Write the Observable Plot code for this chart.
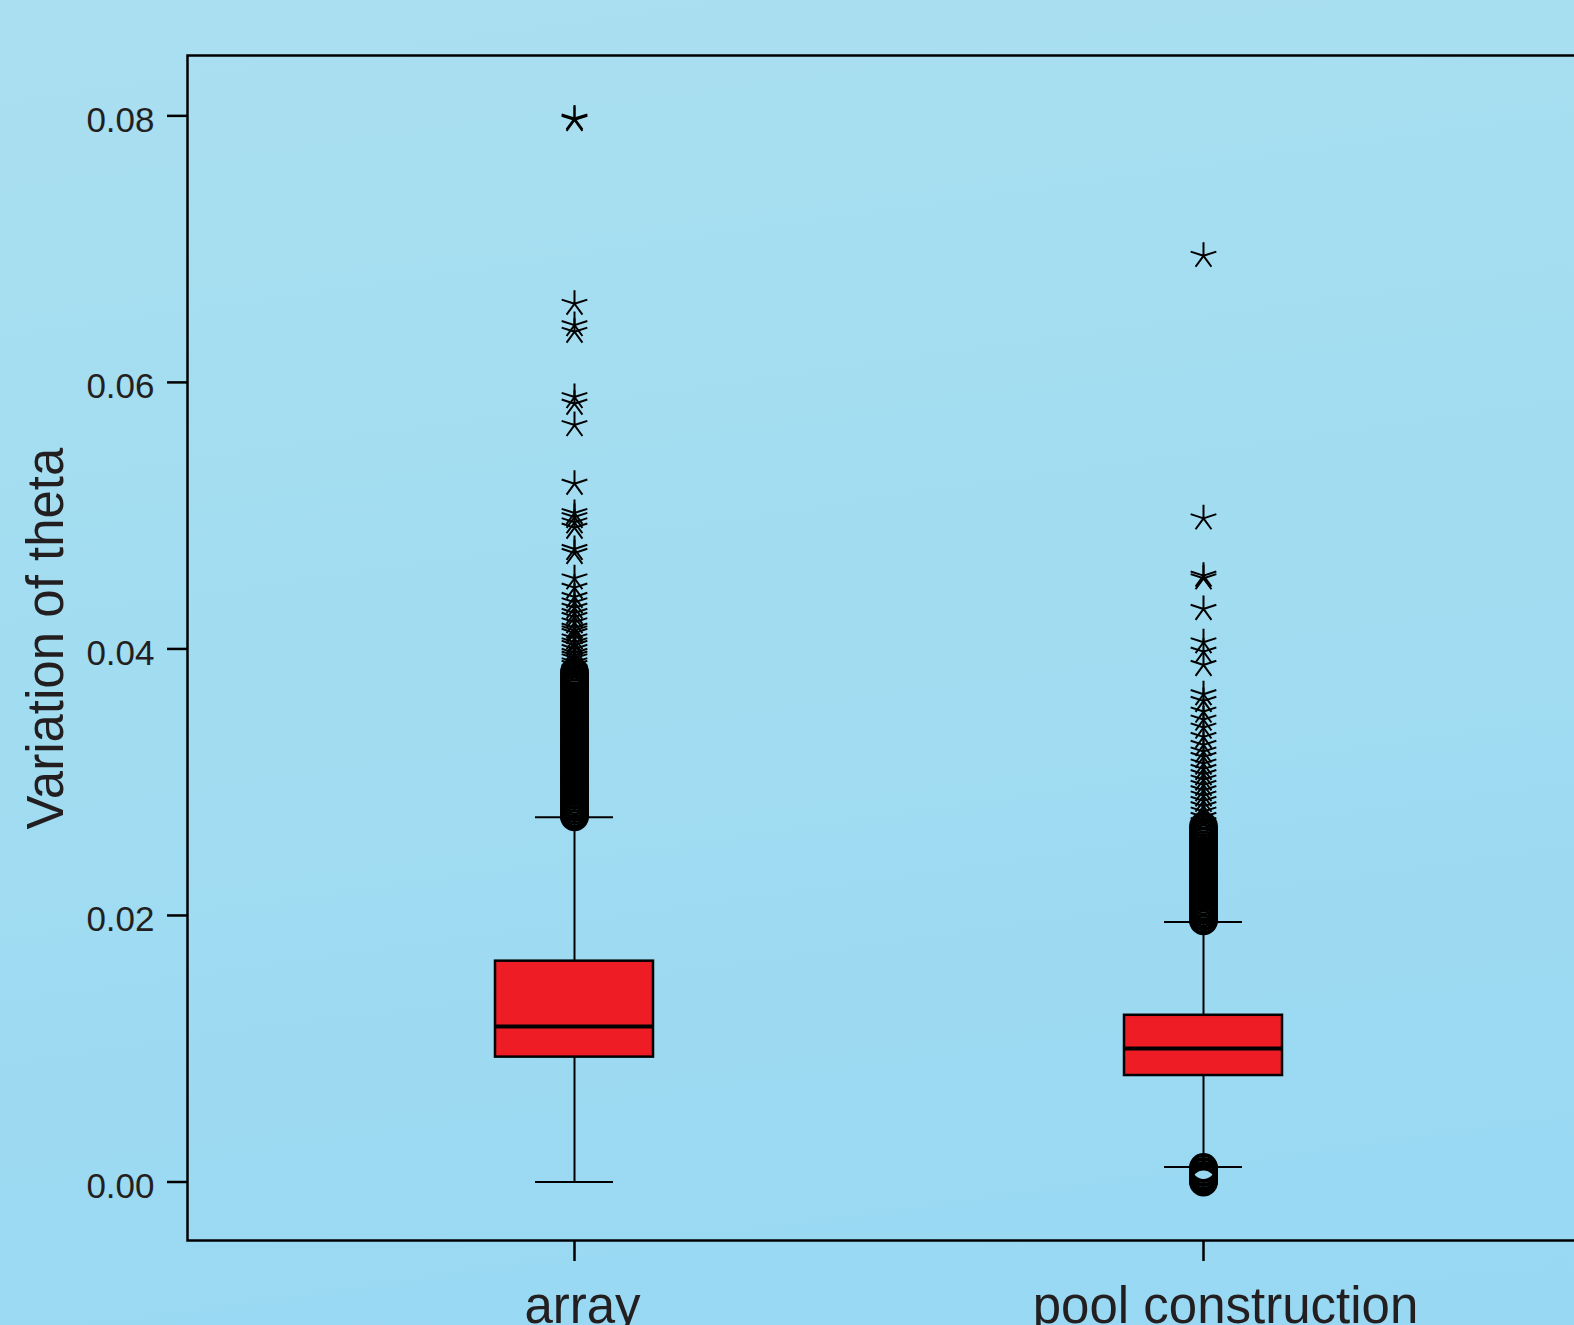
<!DOCTYPE html>
<html><head><meta charset="utf-8">
<script src="https://cdn.jsdelivr.net/npm/d3@7"></script>
<script src="https://cdn.jsdelivr.net/npm/@observablehq/plot@0.6"></script>
<style>
html, body { margin:0; padding:0; width:1574px; height:1325px; overflow:hidden;
  background: linear-gradient(172deg, #aadff0 0%, #a1dcf1 50%, #98d8f3 100%);
  font-family: "Liberation Sans", Arial, sans-serif; }
</style></head><body><div id="chart"></div>
<script>
// ---- data ----
const categories = ["array", "pool construction"];
const lowerWhisker = [0.0000, 0.00113];
const q1 = [0.00937, 0.00799];
const median = [0.01167, 0.01002];
const q3 = [0.01657, 0.01251];
const upperWhisker = [0.02737, 0.01951];

const arrayOutliers = [0.0383, 0.0381, 0.0379, 0.0378, 0.0376, 0.0374, 0.0372, 0.0371, 0.0369, 0.0367,
  0.0365, 0.0363, 0.0362, 0.0360, 0.0358, 0.0356, 0.0354, 0.0353, 0.0351, 0.0349, 0.0347, 0.0345,
  0.0344, 0.0342, 0.0340, 0.0338, 0.0336, 0.0335, 0.0333, 0.0331, 0.0329, 0.0327, 0.0326, 0.0324,
  0.0322, 0.0320, 0.0318, 0.0317, 0.0315, 0.0313, 0.0311, 0.0309, 0.0308, 0.0306, 0.0304, 0.0302,
  0.0300, 0.0299, 0.0297, 0.0295, 0.0293, 0.0291, 0.0290, 0.0288, 0.0286, 0.0284, 0.0282, 0.0281,
  0.0279, 0.0277, 0.0276, 0.0275, 0.0274];
const arrayExtremes = [0.0798, 0.0797, 0.0659, 0.0643, 0.0638, 0.0589, 0.0584, 0.0568, 0.0524,
  0.0502, 0.0499, 0.0495, 0.0491, 0.0475, 0.0472, 0.0453, 0.0446, 0.0439, 0.0435, 0.0431, 0.0427,
  0.0424, 0.0420, 0.0416, 0.0414, 0.0412, 0.0408, 0.0405, 0.0403, 0.0400, 0.0397, 0.0395, 0.0393,
  0.0390, 0.0388, 0.0385];
const poolOutliers = [0.0267, 0.0265, 0.0263, 0.0262, 0.0260, 0.0258, 0.0256, 0.0255, 0.0253, 0.0251,
  0.0249, 0.0248, 0.0246, 0.0244, 0.0242, 0.0241, 0.0239, 0.0237, 0.0235, 0.0234, 0.0232, 0.0230,
  0.0228, 0.0227, 0.0225, 0.0223, 0.0221, 0.0220, 0.0218, 0.0216, 0.0214, 0.0213, 0.0211, 0.0209,
  0.0207, 0.0206, 0.0204, 0.0202, 0.0200, 0.0199, 0.0197, 0.0196,
  0.0011, 0.0010, 0.0008, 0.0007, 0.0005, 0.0004, 0.0003, 0.0002, 0.0001, 0.0000];
const poolExtremes = [0.0695, 0.0498, 0.0455, 0.0453, 0.0430, 0.0405, 0.0398, 0.0388, 0.0366, 0.0361,
  0.0353, 0.0347, 0.0341, 0.0334, 0.0328, 0.0323, 0.0319, 0.0314, 0.0310, 0.0306, 0.0302, 0.0298,
  0.0294, 0.0290, 0.0286, 0.0282, 0.0278, 0.0274, 0.0270];
const yTicks = [0, 0.02, 0.04, 0.06, 0.08];
const yLabel = "Variation of theta";

// ---- tables ----
const stats = categories.map((c, i) => ({cat: c, lo: lowerWhisker[i], q1: q1[i], med: median[i], q3: q3[i], hi: upperWhisker[i]}));
const outliers = [
  ...arrayOutliers.map(v => ({cat: categories[0], v})),
  ...poolOutliers.map(v => ({cat: categories[1], v}))
];
const extremes = [
  ...arrayExtremes.map(v => ({cat: categories[0], v})),
  ...poolExtremes.map(v => ({cat: categories[1], v}))
];

// five-armed asterisk symbol
const asterisk5 = {
  draw(context, size) {
    const r = Math.sqrt(size / Math.PI);
    for (const a of [90, 18, 162, -54, -126]) {
      const t = a * Math.PI / 180;
      context.moveTo(0, 0);
      context.lineTo(r * Math.cos(t), -r * Math.sin(t));
    }
  }
};

const W = 1590, H = 1400, frameBottom = 1240;
const ink = "#231f20";
const chart = Plot.plot({
  width: W, height: H,
  marginLeft: 187, marginRight: 1, marginTop: 55, marginBottom: H - frameBottom,
  style: {background: "transparent", maxWidth: "none", overflow: "visible",
          fontFamily: "'Liberation Sans', Arial, sans-serif", color: ink},
  x: {type: "band", domain: categories, paddingInner: 0.749, paddingOuter: 0.4876, axis: null},
  y: {domain: [-0.00439, 0.08453], axis: null},
  marks: [
    Plot.axisY(yTicks, {anchor: "left", tickSize: 20, strokeWidth: 2.5, stroke: "black", tickFormat: () => "", label: null}),
    Plot.axisY(yTicks, {anchor: "left", tickSize: 0, tickPadding: 33, dy: 4.5, fontSize: 35, fill: ink, tickFormat: d3.format(".2f"), label: null}),
    Plot.axisX(categories, {anchor: "bottom", tickSize: 21, strokeWidth: 2.5, stroke: "black", tickFormat: () => "", label: null}),
    Plot.axisX([categories[0]], {anchor: "bottom", tickSize: 0, tickPadding: 46, dx: 8, fontSize: 51, fill: ink, label: null}),
    Plot.axisX([categories[1]], {anchor: "bottom", tickSize: 0, tickPadding: 46, dx: 22, fontSize: 51, fill: ink, label: null}),
    Plot.text([yLabel], {text: d => d, frameAnchor: "left", textAnchor: "middle", rotate: -90, dx: -125, dy: -9.5, lineAnchor: "bottom", fontSize: 51, fill: ink}),
    Plot.ruleX(stats, {x: "cat", y1: "lo", y2: "q1", stroke: "black", strokeWidth: 2}),
    Plot.ruleX(stats, {x: "cat", y1: "q3", y2: "hi", stroke: "black", strokeWidth: 2}),
    Plot.tickY(stats, {x: "cat", y: "lo", insetLeft: 40, insetRight: 40, stroke: "black", strokeWidth: 2}),
    Plot.tickY(stats, {x: "cat", y: "hi", insetLeft: 40, insetRight: 40, stroke: "black", strokeWidth: 2}),
    Plot.dot(outliers, {x: "cat", y: "v", r: 13, stroke: "black", strokeWidth: 2.8, fill: "none"}),
    Plot.dot(extremes, {x: "cat", y: "v", r: 13.5, symbol: asterisk5, stroke: "black", strokeWidth: 2, fill: "none"}),
    Plot.barY(stats, {x: "cat", y1: "q1", y2: "q3", fill: "#ee1c25", stroke: "black", strokeWidth: 2.5}),
    Plot.tickY(stats, {x: "cat", y: "med", stroke: "black", strokeWidth: 4}),
    Plot.frame({stroke: "black", strokeWidth: 2.5})
  ]
});
document.getElementById("chart").appendChild(chart);
</script>
</body></html>
